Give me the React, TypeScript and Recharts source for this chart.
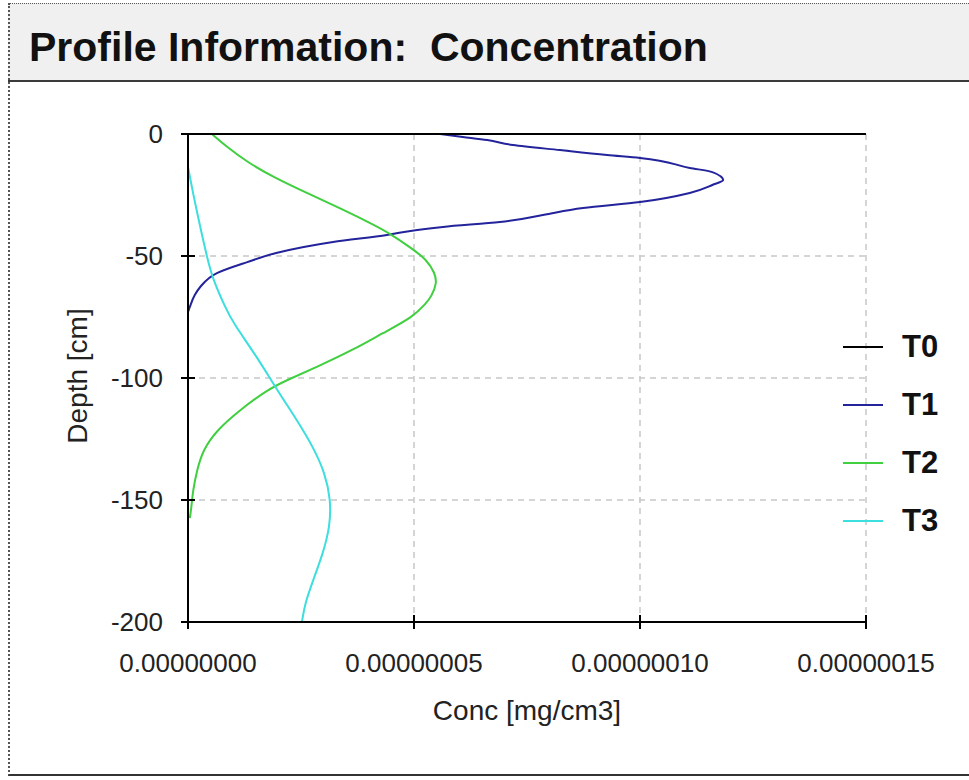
import React from "react"
import { LineChart, Line, XAxis, YAxis, CartesianGrid, Legend } from "recharts"

// concentration [mg/cm3] against depth [cm], one profile per output time
const t0Conc = [0, 0]
const t0Depth = [0, -200]

const t1Conc = [
  5.58e-8, 6.08e-8, 6.62e-8, 7.19e-8, 8.23e-8, 9.27e-8, 10.0e-8, 11.1e-8, 11.6e-8, 11.84e-8,
  11.6e-8, 11.1e-8, 10.0e-8, 8.74e-8, 7.85e-8, 6.9e-8, 5.64e-8, 5.07e-8, 4.4e-8, 3.21e-8,
  1.95e-8, 1.31e-8, 0.64e-8, 0.27e-8, 0.15e-8, 0.04e-8, 0.0,
]
const t1Depth = [
  0, -1.2, -2.5, -4.5, -6.6, -8.6, -9.8, -13.9, -15.6, -18.9,
  -20.9, -24.2, -27.9, -30.3, -33.2, -36.1, -38.1, -39.3, -41.4, -44.3,
  -48.8, -52.5, -57.0, -62.7, -66.0, -70.9, -73.0,
]

const t2Conc = [
  0.53e-8, 0.86e-8, 1.31e-8, 1.88e-8, 2.63e-8, 3.45e-8, 4.12e-8, 4.45e-8, 4.91e-8, 5.29e-8,
  5.46e-8, 5.51e-8, 5.38e-8, 5.27e-8, 4.98e-8, 4.31e-8, 3.65e-8, 2.85e-8, 2.19e-8, 1.75e-8,
  1.15e-8, 0.64e-8, 0.33e-8, 0.2e-8, 0.11e-8, 0.07e-8, 0.04e-8,
]
const t2Depth = [
  0, -5.3, -11.5, -17.6, -24.2, -31.1, -37.3, -40.6, -46.3, -51.6,
  -57.0, -61.0, -66.8, -69.3, -75.0, -81.6, -88.5, -95.5, -100.8, -104.9,
  -113.1, -121.3, -129.5, -137.7, -145.9, -154.0, -157.4,
]

const t3Conc = [
  0.0, 0.11e-8, 0.27e-8, 0.42e-8, 0.54e-8, 0.82e-8, 1.0e-8, 1.53e-8, 1.97e-8, 2.41e-8,
  2.77e-8, 3.03e-8, 3.16e-8, 3.14e-8, 2.99e-8, 2.77e-8, 2.59e-8, 2.52e-8,
]
const t3Depth = [
  -13.5, -24.2, -38.1, -50.4, -59.0, -70.9, -77.5, -91.4, -104.9, -117.2,
  -128.3, -138.9, -150.0, -161.0, -171.7, -182.8, -192.2, -200,
]

const concTicks = [0, 5e-8, 1e-7, 1.5e-7]
const depthTicks = [0, -50, -100, -150, -200]

const toPoints = (conc: number[], depth: number[]) => conc.map((c, i) => ({ c, d: depth[i] }))

const series = [
  { name: "T0", color: "#000000", curve: "linear", data: toPoints(t0Conc, t0Depth) },
  { name: "T1", color: "#23239b", curve: "monotoneY", data: toPoints(t1Conc, t1Depth) },
  { name: "T2", color: "#3fcf3f", curve: "basis", data: toPoints(t2Conc, t2Depth) },
  { name: "T3", color: "#3ddede", curve: "basis", data: toPoints(t3Conc, t3Depth) },
]

const FONT = '"Liberation Sans", Arial, sans-serif'

// tick marks cross the axis line, as in the old desktop plot
const BottomTick = ({ x, y, payload }: any) => (
  <g>
    <line x1={x} x2={x} y1={y - 7} y2={y + 7} stroke="#000" strokeWidth={2} />
    <text x={x} y={y + 41} textAnchor="middle" dominantBaseline="central" fontSize={26} fill="#222" fontFamily={FONT}>
      {Number(payload.value).toFixed(8)}
    </text>
  </g>
)

const TopTick = ({ x, y }: any) => (
  <line x1={x} x2={x} y1={y - 7} y2={y + 7} stroke="#000" strokeWidth={2} />
)

const LeftTick = ({ x, y, payload }: any) => (
  <g>
    <line x1={x - 7} x2={x + 7} y1={y} y2={y} stroke="#000" strokeWidth={2} />
    <text x={x - 25} y={y} textAnchor="end" dominantBaseline="central" fontSize={26} fill="#222" fontFamily={FONT}>
      {payload.value}
    </text>
  </g>
)

const LegendBox = ({ payload }: any) => (
  <div style={{ fontFamily: FONT }}>
    {(payload || []).map((entry: any) => (
      <div key={entry.value} style={{ display: "flex", alignItems: "center", height: 58 }}>
        <svg width={40} height={4} style={{ marginRight: 19 }}>
          <line x1={0} x2={40} y1={2} y2={2} stroke={entry.color} strokeWidth={2} />
        </svg>
        <span style={{ fontSize: 31, fontWeight: "bold", color: "#111" }}>{entry.value}</span>
      </div>
    ))}
  </div>
)

export default function App() {
  return (
    <div
      style={{
        position: "absolute",
        left: 0,
        top: 0,
        width: 969,
        height: 780,
        background: "#fff",
        overflow: "hidden",
        fontFamily: FONT,
      }}
    >
      {/* header band */}
      <div
        style={{
          position: "absolute",
          left: 8,
          top: 3,
          width: 961,
          height: 76,
          background: "#f0f0f0",
          borderTop: "1px dotted #555",
          borderLeft: "2px dotted #555",
        }}
      >
        <div
          style={{
            position: "absolute",
            left: 19,
            top: 19,
            fontSize: 41,
            fontWeight: "bold",
            color: "#111",
            lineHeight: "48px",
            whiteSpace: "pre",
          }}
        >
          Profile Information:  Concentration
        </div>
      </div>
      <div style={{ position: "absolute", left: 8, top: 80, width: 961, height: 2, background: "#3a3a3a" }} />
      <div
        style={{
          position: "absolute",
          left: 8,
          top: 82,
          width: 961,
          height: 692,
          borderLeft: "2px dotted #555",
          borderBottom: "2px solid #333",
        }}
      />

      <div style={{ position: "absolute", left: 0, top: 0 }}>
        <LineChart width={969} height={780} margin={{ top: 124, right: 103, bottom: 128, left: 128 }}>
          <CartesianGrid stroke="#c8c8c8" strokeDasharray="6 5" strokeWidth={1.5} />
          <XAxis
            type="number"
            dataKey="c"
            domain={[0, 1.5e-7]}
            ticks={concTicks}
            tick={<BottomTick />}
            tickSize={0}
            tickMargin={0}
            height={30}
            axisLine={{ stroke: "#000", strokeWidth: 2 }}
            label={{
              content: ({ viewBox }: any) => (
                <text
                  x={viewBox.x + viewBox.width / 2}
                  y={viewBox.y + 88}
                  textAnchor="middle"
                  dominantBaseline="central"
                  fontSize={28}
                  fill="#222"
                  fontFamily={FONT}
                >
                  Conc [mg/cm3]
                </text>
              ),
            }}
          />
          <XAxis
            xAxisId="top"
            orientation="top"
            type="number"
            dataKey="c"
            domain={[0, 1.5e-7]}
            ticks={concTicks}
            tick={<TopTick />}
            tickSize={0}
            tickMargin={0}
            height={10}
            axisLine={{ stroke: "#000", strokeWidth: 2 }}
          />
          <YAxis
            type="number"
            dataKey="d"
            domain={[-200, 0]}
            ticks={depthTicks}
            tick={<LeftTick />}
            tickSize={0}
            tickMargin={0}
            width={60}
            axisLine={{ stroke: "#000", strokeWidth: 2 }}
            label={{
              content: ({ viewBox }: any) => {
                const cx = viewBox.x + viewBox.width - 111
                const cy = viewBox.y + viewBox.height / 2 - 2
                return (
                  <text
                    x={cx}
                    y={cy}
                    transform={`rotate(-90 ${cx} ${cy})`}
                    textAnchor="middle"
                    dominantBaseline="central"
                    fontSize={28}
                    fill="#222"
                    fontFamily={FONT}
                  >
                    Depth [cm]
                  </text>
                )
              },
            }}
          />
          <Legend
            layout="horizontal"
            align="center"
            verticalAlign="middle"
            content={<LegendBox />}
            wrapperStyle={{ left: 843, top: 318, width: 120 }}
          />
          {series.map((s) => (
            <Line
              key={s.name}
              name={s.name}
              data={s.data}
              dataKey="d"
              type={s.curve as any}
              stroke={s.color}
              strokeWidth={2}
              dot={false}
              activeDot={false}
              isAnimationActive={false}
            />
          ))}
        </LineChart>
      </div>
    </div>
  )
}
